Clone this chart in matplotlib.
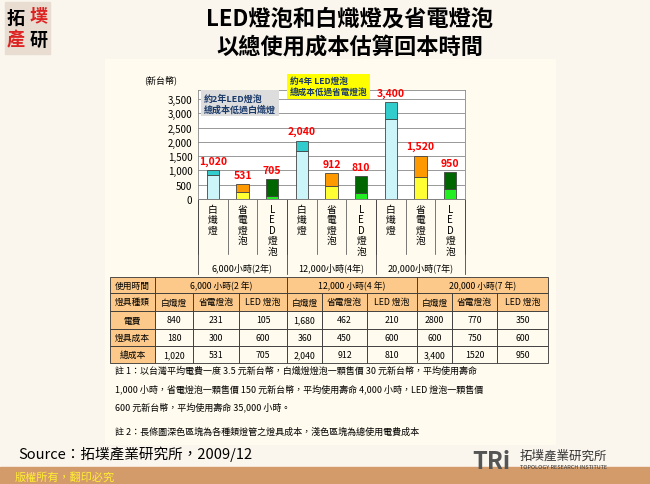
import matplotlib
matplotlib.use("Agg")
import matplotlib.pyplot as plt
from matplotlib.patches import Rectangle
import numpy as np

plt.rcParams['font.family'] = ['Noto Sans CJK TC', 'DejaVu Sans']

categories = ["白熾燈", "省電燈泡", "LED燈泡"] * 3
periods = ["6,000小時(2年)", "12,000小時(4年)", "20,000小時(7年)"]
electricity = [840, 231, 105, 1680, 462, 210, 2800, 770, 350]
fixture = [180, 300, 600, 360, 450, 600, 600, 750, 600]
totals = [1020, 531, 705, 2040, 912, 810, 3400, 1520, 950]
total_labels = ["1,020", "531", "705", "2,040", "912", "810", "3,400", "1,520", "950"]
yticks = [0, 500, 1000, 1500, 2000, 2500, 3000, 3500]
table_periods = ["6,000 小時(2 年)", "12,000 小時(4 年)", "20,000 小時(7 年)"]
table_types = ["白熾燈", "省電燈泡", "LED 燈泡"] * 3
table_elec = ["840", "231", "105", "1,680", "462", "210", "2800", "770", "350"]
table_fix = ["180", "300", "600", "360", "450", "600", "600", "750", "600"]
table_total = ["1,020", "531", "705", "2,040", "912", "810", "3,400", "1520", "950"]

light_cols = ["#ccf5fa", "#ffff33", "#22ee22"]
dark_cols = ["#33cccc", "#ff9900", "#006600"]

W, H = 650, 485
fig = plt.figure(figsize=(6.5, 4.85), dpi=100)
bg = fig.add_axes([0, 0, 1, 1])
bg.set_xlim(0, W); bg.set_ylim(H, 0); bg.axis('off')

# backgrounds
bg.add_patch(Rectangle((0, 0), 650, 485, color="#faf6ee", zorder=0))
bg.add_patch(Rectangle((105, 60), 450, 385, color="#fffbee", zorder=1))
bg.add_patch(Rectangle((0, 468), 650, 17, color="#d39a6a", zorder=1))
bg.text(15, 477, "版權所有，翻印必究", color="#ffee33", fontsize=8, va='center', zorder=2)
# logo
bg.add_patch(Rectangle((5, 3), 45, 52, color="#e8ddd0", zorder=1))
bg.text(7, 18, "拓", fontsize=13, fontweight='bold', va='center', zorder=2)
bg.text(30, 16, "墣", fontsize=13, fontweight='bold', color="#dd2222", va='center', zorder=2)
bg.text(7, 40, "產", fontsize=13, fontweight='bold', color="#dd2222", va='center', zorder=2)
bg.text(30, 40, "研", fontsize=13, fontweight='bold', va='center', zorder=2)
# title
bg.text(350, 19, "LED燈泡和白熾燈及省電燈泡", fontsize=16, fontweight='bold', ha='center', va='center', zorder=2)
bg.text(350, 47, "以總使用成本估算回本時間", fontsize=16, fontweight='bold', ha='center', va='center', zorder=2)
# TRI logo
bg.text(472, 462, "TRi", fontsize=17, fontweight='bold', color="#555555", va='center', zorder=2)
bg.text(520, 456, "拓墣產業研究所", fontsize=9, color="#333333", va='center', zorder=2)
bg.text(520, 468, "TOPOLOGY RESEARCH INSTITUTE", fontsize=4, color="#333333", va='center', zorder=2)
bg.text(18, 454, "Source：拓墣產業研究所，2009/12", fontsize=10.5, va='center', zorder=2)

# chart axes
x0, x1, ytop, ybot = 198, 465, 91.4, 200
ax = fig.add_axes([x0 / W, 1 - ybot / H, (x1 - x0) / W, (ybot - ytop) / H])
ax.set_facecolor('white')
ax.set_xlim(-0.5, 8.5); ax.set_ylim(0, 3800)
x = np.arange(9)
for i in range(9):
    k = i % 3
    ax.bar(x[i], electricity[i], 0.42, color=light_cols[k], edgecolor="#444444", lw=0.6, zorder=3)
    ax.bar(x[i], fixture[i], 0.42, bottom=electricity[i], color=dark_cols[k], edgecolor="#444444", lw=0.6, zorder=3)
    ax.text(x[i], totals[i] + 150, total_labels[i], color="red", fontsize=7.5, fontweight='bold',
            ha='center', va='bottom', zorder=6, clip_on=False)
ax.set_yticks(yticks)
ax.set_yticklabels([f"{v:,}" for v in yticks], fontsize=7)
ax.yaxis.grid(True, color="#888888", lw=0.6, zorder=0)
ax.set_xticks([])
ax.tick_params(axis='y', length=0, pad=4)
for s in ax.spines.values():
    s.set_color("#888888"); s.set_linewidth(0.6)
ax.text(-0.2, 1.06, "(新台幣)", transform=ax.transAxes, fontsize=6.5, ha='left', va='bottom')
ax.text(-0.3, 3350, "約2年LED燈泡\n總成本低過白熾燈", fontsize=6.5, color="#1a3a6a", fontweight='bold',
        ha='left', va='center', bbox=dict(fc="#dddddd", ec='none', pad=2), zorder=5)
ax.text(2.6, 3950, "約4年 LED燈泡\n總成本低過省電燈泡", fontsize=6.2, color="#1a3a6a", fontweight='bold',
        ha='left', va='center', bbox=dict(fc="#ffff00", ec='none', pad=2), zorder=5, clip_on=False)

# category boxes below chart
colw = (x1 - x0) / 9
bg.plot([x0, x0 + 9 * colw], [200, 200], color="#444444", lw=0.6, zorder=2)
for i in range(9):
    cx = x0 + (i + 0.5) * colw
    bg.text(cx, 205, "\n".join(categories[i]), fontsize=7, ha='center', va='top',
            linespacing=1.05, zorder=2)
for g in range(4):
    xx = x0 + 3 * g * colw
    bg.plot([xx, xx], [200, 275], color="#444444", lw=0.6, zorder=2)
for i in range(10):
    xx = x0 + i * colw
    bg.plot([xx, xx], [200, 255], color="#444444", lw=0.5, zorder=2)
for g in range(3):
    bg.text(x0 + (3 * g + 1.5) * colw, 268, periods[g], fontsize=6.5, ha='center', va='center', zorder=2)

# table
col_edges = [110, 155, 193, 239, 287, 322, 367, 417, 452, 497, 548]
row_edges = [278, 294, 312, 330, 347, 364]
orange = "#fcc98a"; cream = "#fffbee"
row_labels = ["使用時間", "燈具種類", "電費", "燈具成本", "總成本"]
for r in range(5):
    y0, y1 = row_edges[r], row_edges[r + 1]
    bg.add_patch(Rectangle((110, y0), 45, y1 - y0, fc=orange, ec="#333333", lw=0.6, zorder=2))
    bg.text(132.5, (y0 + y1) / 2, row_labels[r], fontsize=6.3, ha='center', va='center', zorder=3)
for g in range(3):
    xa, xb = col_edges[1 + 3 * g], col_edges[4 + 3 * g]
    bg.add_patch(Rectangle((xa, 278), xb - xa, 16, fc=orange, ec="#333333", lw=0.6, zorder=2))
    bg.text((xa + xb) / 2, 286, table_periods[g], fontsize=6.3, ha='center', va='center', zorder=3)
for c in range(9):
    xa, xb = col_edges[c + 1], col_edges[c + 2]
    for r, (vals, fc) in enumerate([(table_types, orange), (table_elec, cream), (table_fix, cream), (table_total, cream)]):
        y0, y1 = row_edges[r + 1], row_edges[r + 2]
        bg.add_patch(Rectangle((xa, y0), xb - xa, y1 - y0, fc=fc, ec="#333333", lw=0.6, zorder=2))
        bg.text((xa + xb) / 2, (y0 + y1) / 2, vals[c], fontsize=6.3, ha='center', va='center', zorder=3)

notes = ["註 1：以台灣平均電費一度 3.5 元新台幣，白熾燈燈泡一顆售價 30 元新台幣，平均使用壽命",
         "1,000 小時，省電燈泡一顆售價 150 元新台幣，平均使用壽命 4,000 小時，LED 燈泡一顆售價",
         "600 元新台幣，平均使用壽命 35,000 小時。"]
for i, t in enumerate(notes):
    bg.text(115, 371 + 18 * i, t, fontsize=6.5, va='center', zorder=2)
bg.text(115, 432, "註 2：長條圖深色區塊為各種類燈管之燈具成本，淺色區塊為總使用電費成本", fontsize=6.5, va='center', zorder=2)

fig.savefig("out.png", dpi=100)
